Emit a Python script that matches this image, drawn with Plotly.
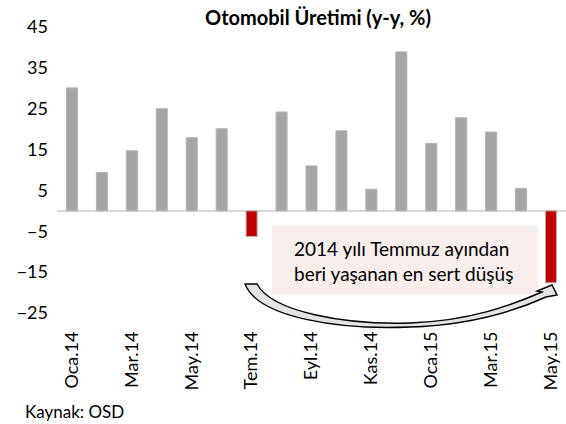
import plotly.graph_objects as go

months = ["Oca.14", "Şub.14", "Mar.14", "Nis.14", "May.14", "Haz.14", "Tem.14", "Ağu.14",
          "Eyl.14", "Eki.14", "Kas.14", "Ara.14", "Oca.15", "Şub.15", "Mar.15", "Nis.15", "May.15"]
values = [30.1, 9.4, 14.7, 25.0, 17.9, 20.1, -6.3, 24.2, 11.0, 19.6, 5.3, 38.9, 16.5, 22.8, 19.3, 5.5, -17.6]
tick_labels = months[::2]
y_ticks = [-25, -15, -5, 5, 15, 25, 35, 45]

title_text = "Otomobil Üretimi (y-y, %)"
note_text = "2014 yılı Temmuz ayından<br>beri yaşanan en sert düşüş"
source_text = "Kaynak: OSD"

FONT = "Lato"
W, H = 566, 424
L, R, T, B = 57, 0, 27, 111
PW, PH = W - L - R, H - T - B

def px(x, y):
    return (x - L) / PW, (H - B - y) / PH

colors = ["#C00000" if v < 0 else "#A5A5A5" for v in values]

fig = go.Figure(go.Bar(
    x=months, y=values, width=0.37,
    marker=dict(color=colors, line=dict(color="#B4B4B4", width=1)),
    hoverinfo="x+y",
))

# annotation box
x0, y0 = px(272, 225)
x1, y1 = px(538, 295)
shapes = [dict(type="rect", xref="paper", yref="paper", x0=x0, y0=y1, x1=x1, y1=y0,
               fillcolor="#F8EFED", line=dict(width=0), layer="below")]

# curved arrow (pixel path -> paper coords)
pts_cmds = [
    ("M", [(245, 284)]),
    ("C", [(258, 318), (340, 330), (410, 327)]),
    ("C", [(470, 325), (515, 311), (546, 297)]),
    ("L", [(557, 295)]),
    ("L", [(552, 285)]),
    ("L", [(537, 291)]),
    ("L", [(542, 292)]),
    ("C", [(512, 305), (470, 321), (410, 323)]),
    ("C", [(345, 325), (272, 312), (257, 284)]),
]
path = ""
for cmd, pts in pts_cmds:
    path += cmd + " " + " ".join("%.5f,%.5f" % px(a, b) for a, b in pts) + " "
path += "Z"
shapes.append(dict(type="path", xref="paper", yref="paper", path=path,
                   fillcolor="#E4E4E4", line=dict(color="#000000", width=1.4)))

tx, ty = px(292, 261)
sx, sy = px(23, 411)
annotations = [
    dict(xref="paper", yref="paper", x=tx, y=ty, xanchor="left", yanchor="middle",
         text=note_text, showarrow=False, align="left",
         font=dict(family=FONT, size=19, color="#000000")),
    dict(xref="paper", yref="paper", x=sx, y=sy, xanchor="left", yanchor="middle",
         text=source_text, showarrow=False,
         font=dict(family=FONT, size=17, color="#000000")),
]

fig.update_layout(
    width=W, height=H,
    margin=dict(l=L, r=R, t=T, b=B),
    paper_bgcolor="white", plot_bgcolor="white",
    showlegend=False,
    title=dict(text="<b>" + title_text + "</b>", x=318 / W, xanchor="center",
               y=1 - 18 / H, yanchor="middle", yref="container",
               font=dict(family=FONT, size=20, color="#000000")),
    xaxis=dict(type="category", categoryorder="array", categoryarray=months,
               tickmode="array", tickvals=tick_labels, ticktext=tick_labels,
               tickangle=-90, ticks="", showline=False, showgrid=False,
               ticklabelstandoff=14,
               tickfont=dict(family=FONT, size=18, color="#000000")),
    yaxis=dict(range=[-25, 45], tickmode="array", tickvals=y_ticks,
               showgrid=False, zeroline=True, zerolinecolor="#D9D9D9", zerolinewidth=1.5,
               showline=False, ticks="", ticklabelstandoff=8,
               tickfont=dict(family=FONT, size=18, color="#000000")),
    shapes=shapes,
    annotations=annotations,
    font=dict(family=FONT),
)

fig.write_html("out.html", config={"displayModeBar": False},
               post_script="document.body.style.margin='0';document.body.style.overflow='hidden';")
